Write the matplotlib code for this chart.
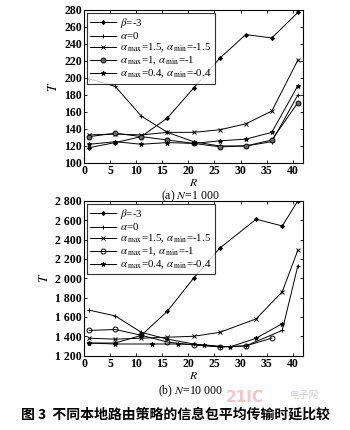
import matplotlib
matplotlib.use("Agg")
import matplotlib.pyplot as plt
from matplotlib.ticker import FixedLocator, FixedFormatter

plt.rcParams['font.family'] = ['Liberation Serif', 'Noto Sans CJK SC', 'DejaVu Sans']
plt.rcParams['mathtext.fontset'] = 'stix'

labels = [r'$\beta$=-3', r'$\alpha$=0',
          r'$\alpha_{\;\rm max}$=1.5, $\alpha_{\;\rm min}$=-1.5',
          r'$\alpha_{\;\rm max}$=1, $\alpha_{\;\rm min}$=-1',
          r'$\alpha_{\;\rm max}$=0.4, $\alpha_{\;\rm min}$=-0.4']
markers = ['D', '+', 'x', 'o', '*']

# (a) N=1000
xa = [1, 6, 11, 16, 21, 26, 31, 36, 41]
a_beta = [118, 124, 131, 153, 188, 223, 251, 247, 277]
a_alpha0 = [199, 190, 155, 136, 125, 120, 120, 125, 180]
a_a15 = [133, 134, 133, 136, 136, 139, 146, 161, 221]
a_a1 = [131, 135, 131, 127, 123, 119, 120, 127, 171]
a_a04 = [122, 125, 122, 124, 123, 126, 128, 136, 191]

# (b) N=10000
xb_beta = [1, 6, 11, 16, 21, 26, 33, 38, 41]
b_beta = [1330, 1330, 1410, 1660, 2000, 2310, 2610, 2540, 2800]
xb_alpha0 = [1, 6, 11, 16, 21, 26, 31, 38, 41]
b_alpha0 = [1670, 1610, 1440, 1370, 1320, 1290, 1300, 1460, 2130]
xb_a15 = [1, 6, 11, 16, 21, 26, 33, 38, 41]
b_a15 = [1380, 1370, 1380, 1390, 1400, 1440, 1580, 1860, 2290]
xb_a1 = [1, 6, 11, 16, 21, 26, 31, 36]
b_a1 = [1460, 1470, 1410, 1340, 1310, 1290, 1300, 1380]
xb_a04 = [1, 6, 13, 18, 23, 28, 33, 38]
b_a04 = [1330, 1320, 1320, 1320, 1310, 1290, 1380, 1530]

a_ticks = [100, 120, 140, 160, 180, 200, 220, 240, 260, 280]
b_ticks = [1200, 1400, 1600, 1800, 2000, 2200, 2400, 2600, 2800]
b_ticklabels = ['1 200', '1 400', '1 600', '1 800', '2 000', '2 200', '2 400', '2 600', '2 800']
x_ticks = [0, 5, 10, 15, 20, 25, 30, 35, 40]

fig = plt.figure(figsize=(3.5, 4.3), dpi=100)
ax1 = fig.add_axes([0.24, 0.621, 0.626, 0.356])
ax2 = fig.add_axes([0.24, 0.173, 0.626, 0.360])

def style(ax, yt, ylab, ylim):
    ax.set_xlim(0, 42)
    ax.set_ylim(*ylim)
    ax.xaxis.set_major_locator(FixedLocator(x_ticks))
    ax.yaxis.set_major_locator(FixedLocator(yt))
    ax.yaxis.set_major_formatter(FixedFormatter(ylab))
    ax.tick_params(direction='in', top=True, right=True, length=2.5, width=0.6,
                   labelsize=8.5, pad=1.5)
    for t in ax.get_xticklabels() + ax.get_yticklabels():
        t.set_fontweight('bold')
    for s in ax.spines.values():
        s.set_linewidth(0.8)
    ax.set_xlabel('$R$', fontsize=8.5, labelpad=0)
    ax.set_ylabel('$T$', fontsize=9.5, labelpad=3)

def plot_series(ax, series, fill_circle):
    for (x, y), lab, m in zip(series, labels, markers):
        kw = dict(color='black', lw=0.7, marker=m, ms=3, mew=0.7, label=lab)
        if m == 'o':
            kw['ms'] = 3.5
            kw['mfc'] = 'dimgray' if fill_circle else 'none'
        if m == 'D':
            kw['ms'] = 2
        if m == '*':
            kw['ms'] = 3.5
        if m == 'x':
            kw['ms'] = 2.5
        ax.plot(x, y, **kw)
    leg = ax.legend(loc='upper left', fontsize=7.8, frameon=True, fancybox=False,
                    edgecolor='black', handlelength=2.4, handletextpad=0.4,
                    labelspacing=0.05, borderpad=0.3, borderaxespad=0.25)
    leg.get_frame().set_linewidth(0.8)

plot_series(ax1, [(xa, a_beta), (xa, a_alpha0), (xa, a_a15), (xa, a_a1), (xa, a_a04)], True)
style(ax1, a_ticks, [str(v) for v in a_ticks], (100, 280))
plot_series(ax2, [(xb_beta, b_beta), (xb_alpha0, b_alpha0), (xb_a15, b_a15),
                  (xb_a1, b_a1), (xb_a04, b_a04)], False)
style(ax2, b_ticks, b_ticklabels, (1200, 2800))

fig.text(0.545, 1 - 196 / 430, '(a) $N$=1 000', ha='center', va='center', fontsize=8.5)
fig.text(0.545, 1 - 391 / 430, '(b) $N$=10 000', ha='center', va='center', fontsize=8.5)

# watermark
fig.text(0.70, 1 - 397 / 430, '21IC', ha='center', va='center', fontsize=11,
         fontweight='bold', color='#f4c4cb', family='DejaVu Sans')
fig.text(0.87, 1 - 395 / 430, '电子网', ha='center', va='center', fontsize=7,
         color='#d0d0dc', family=['Noto Sans CJK SC'])

fig.text(0.5, 1 - 415 / 430, '图 3  不同本地路由策略的信息包平均传输时延比较',
         ha='center', va='center', fontsize=10, fontweight='bold',
         family=['Noto Sans CJK SC'])

fig.savefig('out.png', dpi=100)
